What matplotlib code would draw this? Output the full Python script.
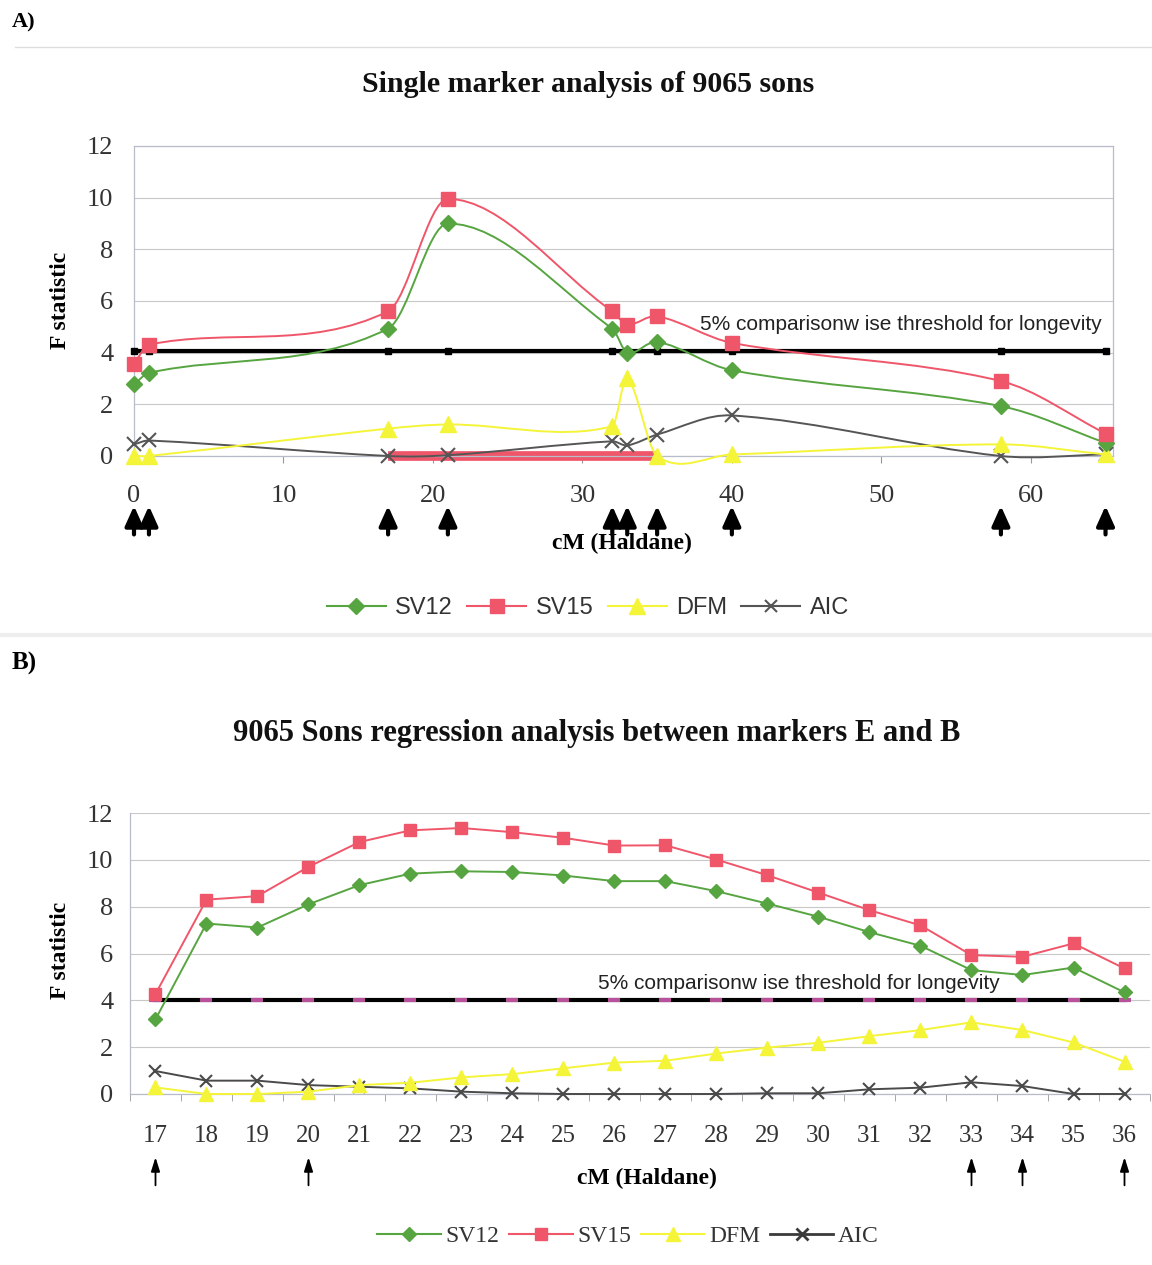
import matplotlib.pyplot as plt
import numpy as np
from matplotlib.path import Path
from matplotlib.patches import PathPatch
from matplotlib.lines import Line2D
from matplotlib.transforms import blended_transform_factory

# ---- Panel A: single marker analysis (cM positions of markers) ----
pos_a = [0, 1, 17, 21, 32, 33, 35, 40, 58, 65]
sv12_a = [2.77, 3.22, 4.93, 9.0, 4.93, 4.0, 4.42, 3.32, 1.93, 0.51]
sv15_a = [3.57, 4.31, 5.6, 9.95, 5.6, 5.09, 5.41, 4.38, 2.9, 0.87]
dfm_a = [0.0, 0.0, 1.06, 1.22, 1.15, 3.0, 0.0, 0.06, 0.45, 0.06]
aic_a = [0.45, 0.6, 0.0, 0.03, 0.57, 0.41, 0.83, 1.57, 0.0, 0.06]
thresh_a = 4.05
region_a = [17, 35]          # highlighted stretch on the x axis
arrows_a = [0, 1, 17, 21, 32, 33, 35, 40, 58, 65]

# ---- Panel B: regression analysis between markers E and B ----
pos_b = list(range(17, 37))
sv12_b = [3.19, 7.28, 7.11, 8.1, 8.92, 9.41, 9.51, 9.48, 9.33, 9.09,
          9.09, 8.66, 8.13, 7.57, 6.91, 6.33, 5.29, 5.08, 5.4, 4.34]
sv15_b = [4.27, 8.3, 8.45, 9.7, 10.76, 11.26, 11.36, 11.18, 10.94, 10.61,
          10.62, 10.01, 9.34, 8.6, 7.85, 7.2, 5.93, 5.86, 6.43, 5.36]
dfm_b = [0.28, 0.0, 0.0, 0.1, 0.38, 0.48, 0.71, 0.85, 1.1, 1.34,
         1.42, 1.73, 1.98, 2.19, 2.47, 2.73, 3.06, 2.73, 2.2, 1.38]
aic_b = [0.98, 0.57, 0.57, 0.38, 0.31, 0.24, 0.1, 0.03, 0.0, 0.0,
         0.0, 0.0, 0.03, 0.03, 0.2, 0.27, 0.5, 0.34, 0.0, 0.0]
thresh_b = 4.0
arrows_b = [17, 20, 33, 34, 36]

GREEN, RED, YELLOW, GREY = '#56a540', '#f0566a', '#f4f438', '#555555'
SERIF = 'Liberation Serif'
SANS = 'Liberation Sans'

W, H = 1152, 1265


def px_axes(left, top, right, bottom):
    return fig.add_axes([left / W, 1 - bottom / H, (right - left) / W, (bottom - top) / H])


def fig_text(x, y, s, **kw):
    # place text by pixel position measured on the reference
    return fig.text(x / W, 1 - y / H, s, ha='center', va='center', **kw)


def smooth_line(ax, x, y, **kw):
    # Excel-like smoothed line: cubic Hermite pieces drawn as Bezier curves
    x = np.asarray(x, float)
    y = np.asarray(y, float)
    n = len(x)
    m = np.zeros(n)
    for i in range(n):
        if i == 0:
            m[i] = (y[1] - y[0]) / (x[1] - x[0])
        elif i == n - 1:
            m[i] = (y[-1] - y[-2]) / (x[-1] - x[-2])
        else:
            m[i] = (y[i + 1] - y[i - 1]) / (x[i + 1] - x[i - 1])
    verts = [(x[0], y[0])]
    codes = [Path.MOVETO]
    for i in range(n - 1):
        h = x[i + 1] - x[i]
        verts += [(x[i] + h / 3, y[i] + m[i] * h / 3),
                  (x[i + 1] - h / 3, y[i + 1] - m[i + 1] * h / 3),
                  (x[i + 1], y[i + 1])]
        codes += [Path.CURVE4] * 3
    ax.add_patch(PathPatch(Path(verts, codes), fill=False, clip_on=False, **kw))


def style_axes(ax):
    ax.set_ylim(0, 12)
    ax.set_yticks(range(0, 13, 2))
    ax.yaxis.grid(True, color='#c8c8c8', lw=0.8)
    ax.set_axisbelow(True)
    for s in ax.spines.values():
        s.set_color('#b8bcc8')
        s.set_linewidth(0.9)
    for lab in ax.get_xticklabels() + ax.get_yticklabels():
        lab.set_fontfamily(SERIF)
        lab.set_color('#333333')


fig = plt.figure(figsize=(W / 100, H / 100), dpi=100)
fig.patch.set_facecolor('white')

# ================= Panel A =================
ax = px_axes(134, 146, 1113, 456)
ax.set_xlim(0, 65.5)
ax.set_xticks(range(0, 61, 10))
ax.tick_params(axis='x', length=5, pad=16, labelsize=19, color='#999999')
ax.tick_params(axis='y', length=0, pad=15, labelsize=19)
style_axes(ax)

ax.plot(region_a, [0, 0], color=RED, lw=7, solid_capstyle='butt', zorder=2, clip_on=False)
ax.plot(pos_a, [thresh_a] * len(pos_a), color='black', lw=3, marker='s', ms=4,
        zorder=3, clip_on=False)

for vals, col, lcol, mk, ms in [(aic_a, GREY, '#555555', 'x', 10),
                                (dfm_a, YELLOW, YELLOW, '^', 11),
                                (sv12_a, GREEN, GREEN, 'D', 8),
                                (sv15_a, RED, RED, 's', 10)]:
    smooth_line(ax, pos_a, vals, edgecolor=lcol, lw=1.4, zorder=4)
    ax.plot(pos_a, vals, ls='none', marker=mk, ms=ms, color=col, mew=1.5 if mk == 'x' else 1,
            zorder=5, clip_on=False)

ax.text(37.9, 5.09, '5% comparisonw ise threshold for longevity', fontsize=15,
        fontfamily=SANS, color='#222222', va='center', ha='left')

fig_text(588, 84, 'Single marker analysis of 9065 sons', fontfamily=SERIF,
         fontweight='bold', fontsize=21.5, color='#111111')
fig_text(60, 300, 'F statistic', rotation=90, fontfamily=SERIF, fontweight='bold', fontsize=17)
fig_text(622, 543, 'cM (Haldane)', fontfamily=SERIF, fontweight='bold', fontsize=17)

tr = blended_transform_factory(ax.transData, ax.transAxes)
for xv in arrows_a:
    ax.annotate('', xy=(xv, -0.152), xytext=(xv, -0.262), xycoords=tr, textcoords=tr,
                arrowprops=dict(arrowstyle='-|>,head_length=1.0,head_width=0.45',
                                mutation_scale=12, lw=3, color='black'))

handles = [Line2D([], [], color=GREEN, marker='D', ms=8),
           Line2D([], [], color=RED, marker='s', ms=10),
           Line2D([], [], color=YELLOW, marker='^', ms=11),
           Line2D([], [], color=GREY, marker='x', ms=9, mew=1.5)]
fig.legend(handles, ['SV12', 'SV15', 'DFM', 'AIC'], loc='center', bbox_to_anchor=(588 / W, 1 - 608 / H),
           ncol=4, frameon=False, handlelength=2.5, columnspacing=0.6, handletextpad=0.4,
           prop={'family': SANS, 'size': 17}, labelcolor='#333333')

# ================= Panel B =================
bx = px_axes(130, 813, 1150, 1094)
bx.set_xlim(16.5, 36.3)
bx.set_xticks(pos_b)
bx.set_xticks(np.arange(16.5, 36.6, 1), minor=True)
bx.tick_params(axis='x', which='major', length=0, pad=22, labelsize=18)
bx.tick_params(axis='x', which='minor', length=5, color='#999999')
bx.tick_params(axis='y', length=0, pad=12, labelsize=19)
style_axes(bx)
bx.spines['right'].set_visible(False)
bx.spines['top'].set_visible(False)

bx.plot(pos_b, [thresh_b] * len(pos_b), color='black', lw=3, zorder=3, clip_on=False)
bx.plot(pos_b, [thresh_b] * len(pos_b), ls='none', marker='_', ms=9, mew=3,
        color='#b8509a', zorder=3, clip_on=False)

for vals, col, mk, ms in [(aic_b, '#4a4a4a', 'x', 9),
                          (dfm_b, YELLOW, '^', 10),
                          (sv12_b, GREEN, 'D', 7.5),
                          (sv15_b, RED, 's', 9)]:
    bx.plot(pos_b, vals, color=col, lw=1.4, marker=mk, ms=ms, mew=1.5 if mk == 'x' else 1,
            zorder=5, clip_on=False)

bx.text(25.68, 4.73, '5% comparisonw ise threshold for longevity', fontsize=15,
        fontfamily=SANS, color='#222222', va='center', ha='left')

fig_text(597, 733, '9065 Sons regression analysis between markers E and B', fontfamily=SERIF,
         fontweight='bold', fontsize=22, color='#111111')
fig_text(60, 950, 'F statistic', rotation=90, fontfamily=SERIF, fontweight='bold', fontsize=17)
fig_text(647, 1178, 'cM (Haldane)', fontfamily=SERIF, fontweight='bold', fontsize=17)

tr = blended_transform_factory(bx.transData, bx.transAxes)
for xv in arrows_b:
    bx.annotate('', xy=(xv, -0.215), xytext=(xv, -0.335), xycoords=tr, textcoords=tr,
                arrowprops=dict(arrowstyle='-|>,head_length=0.7,head_width=0.22',
                                mutation_scale=12, lw=1.3, color='black'))

handles = [Line2D([], [], color=GREEN, marker='D', ms=7.5),
           Line2D([], [], color=RED, marker='s', ms=8),
           Line2D([], [], color=YELLOW, marker='^', ms=10),
           Line2D([], [], color='#3a3a3a', marker='x', ms=9, mew=2, lw=2)]
fig.legend(handles, ['SV12', 'SV15', 'DFM', 'AIC'], loc='center', bbox_to_anchor=(628 / W, 1 - 1236 / H),
           ncol=4, frameon=False, handlelength=2.7, columnspacing=0.4, handletextpad=0.2,
           prop={'family': SERIF, 'size': 17}, labelcolor='#333333')

# panel letters and faint separators
fig_text(24, 22, 'A)', fontfamily=SERIF, fontweight='bold', fontsize=16)
fig_text(24, 663, 'B)', fontfamily=SERIF, fontweight='bold', fontsize=18)
fig.add_artist(Line2D([15 / W, 1], [1 - 47 / H] * 2, color='#dddddd', lw=1))
fig.add_artist(Line2D([0, 1], [1 - 635 / H] * 2, color='#eeeeee', lw=3))

fig.savefig('out.png', dpi=100)
